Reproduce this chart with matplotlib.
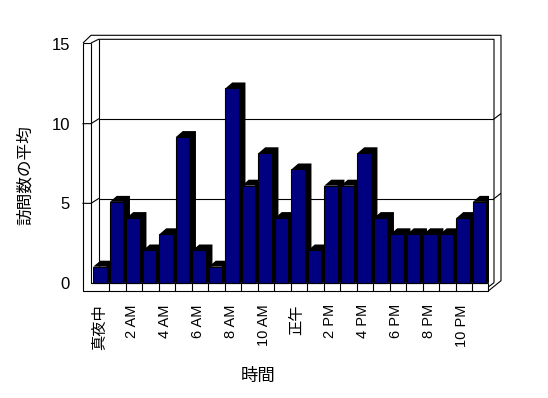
import numpy as np
import matplotlib
matplotlib.use("Agg")
import matplotlib.pyplot as plt

# ---- data ----
hours = list(range(24))
visits = [1, 5, 4, 2, 3, 9, 2, 1, 12, 6, 8, 4, 7, 2, 6, 6, 8, 4, 3, 3, 3, 3, 4, 5]
x_tick_pos = [0, 2, 4, 6, 8, 10, 12, 14, 16, 18, 20, 22]
x_tick_labels = ["真夜中", "2 AM", "4 AM", "6 AM", "8 AM", "10 AM",
                 "正午", "2 PM", "4 PM", "6 PM", "8 PM", "10 PM"]
y_ticks = [0, 5, 10, 15]
x_title = "時間"
y_title = "訪問数の平均"

plt.rcParams["font.family"] = ["Liberation Sans", "Noto Sans CJK JP", "DejaVu Sans"]
CJK = ["Noto Sans CJK JP", "DejaVu Sans"]

W, H = 548, 398
fig = plt.figure(figsize=(W / 100, H / 100), dpi=100)
fig.patch.set_facecolor("white")


def rect(x0, y0, x1, y1):
    return [x0 / W, 1 - y1 / H, (x1 - x0) / W, (y1 - y0) / H]


LW = 0.8
# ---- frame (walls / floor) in pixel space ----
ax_bg = fig.add_axes([0, 0, 1, 1], zorder=0)
ax_bg.set_xlim(0, W)
ax_bg.set_ylim(H, 0)
ax_bg.axis("off")

back0, backtop = 278.3, 39.3
front0, fronttop = 283.0, 44.0
ymax = y_ticks[-1]


def yb(v):
    return back0 - (back0 - backtop) * v / ymax


def yf(v):
    return front0 - (front0 - fronttop) * v / ymax


segs = [
    [(83, 43), (83, 291), (488.3, 291), (488.3, 282.7)],
    [(91, 43), (91, 282.7), (488.3, 282.7)],
    [(83, 43), (91, 43)],
    [(83, 43), (91, 35.3), (501, 35.3), (501, 280.7), (488.3, 291)],
    [(91, 43), (98.5, yb(15)), (494, yb(15)), (494, 282.7), (488.3, 287)],
    [(98.5, yb(15)), (98.5, 282.7)],
]
for s in segs:
    xs, ys = zip(*s)
    ax_bg.plot(xs, ys, color="black", lw=LW, solid_capstyle="butt")
for v in y_ticks[1:-1]:
    ax_bg.plot([83, 91, 98.5], [yf(v), yf(v), yb(v)], color="black", lw=LW)
    ax_bg.plot([494, 500.5], [yb(v), yb(v) - 5], color="black", lw=LW)

# back wall gridlines
ax_back = fig.add_axes(rect(98.5, backtop, 494, back0), zorder=1)
ax_back.set_ylim(0, ymax)
ax_back.set_xlim(0, 1)
ax_back.patch.set_visible(False)
for sp in ax_back.spines.values():
    sp.set_visible(False)
ax_back.set_yticks(y_ticks[1:-1])
ax_back.set_xticks([])
ax_back.tick_params(left=False, labelleft=False)
ax_back.grid(axis="y", color="black", lw=LW)

# ---- bars ----
ax = fig.add_axes(rect(92.5, 35.0, 488.5, 291.0), zorder=2)
ax.patch.set_visible(False)
ax.set_xlim(-0.5, 23.5)
ax.set_ylim(-0.5, 15.3)
for sp in ax.spines.values():
    sp.set_visible(False)

dx, dy = 0.42, 0.37
bw = 0.8
for i, (h, v) in enumerate(zip(hours, visits)):
    x0 = h - 0.45
    x1 = x0 + bw
    ax.fill([x0, x0 + dx, x1 + dx, x1 + dx, x1, x1],
            [v, v + dy, v + dy, 0, 0, v],
            color="black", lw=0, zorder=3 + 2 * i)
    ax.bar(h - 0.05, v, width=bw, color="#000080", edgecolor="black",
           linewidth=LW, zorder=4 + 2 * i)

# floor dividers
ax.vlines(np.arange(1, 24) - 0.5, -0.5, 0, color="black", lw=LW, zorder=1)

ax.set_xticks([p - 0.1 for p in x_tick_pos])
ax.set_xticklabels(x_tick_labels, rotation=90, va="top", ha="center")
ax.tick_params(axis="x", length=0, pad=9.4)
ax.set_yticks([])
for lab in ax.get_xticklabels():
    if any(ord(c) > 0x3000 for c in lab.get_text()):
        lab.set_fontfamily(CJK)
        lab.set_fontsize(11)
    else:
        lab.set_fontsize(10.5)
ax.set_xlabel(x_title, fontfamily=CJK, fontsize=12.5)
ax.xaxis.set_label_coords((258 - 92.5) / 396, (291 - 376) / 256)
ax.xaxis.label.set_va("center")

# ---- front scale (y tick labels) ----
ax_front = fig.add_axes(rect(83, fronttop, 91, front0), zorder=1)
ax_front.set_ylim(0, ymax)
ax_front.patch.set_visible(False)
for sp in ax_front.spines.values():
    sp.set_visible(False)
ax_front.set_xticks([])
ax_front.set_yticks(y_ticks)
ax_front.set_yticklabels([str(t) for t in y_ticks], fontsize=12)
ax_front.tick_params(axis="y", length=0, pad=9.5)
ax_front.set_ylabel(y_title, fontfamily=CJK, fontsize=12)
ax_front.yaxis.set_label_coords((25 - 83) / 8, (front0 - 175) / (front0 - fronttop))
ax_front.yaxis.label.set_va("center")

fig.savefig("out.png", dpi=100, facecolor="white")
